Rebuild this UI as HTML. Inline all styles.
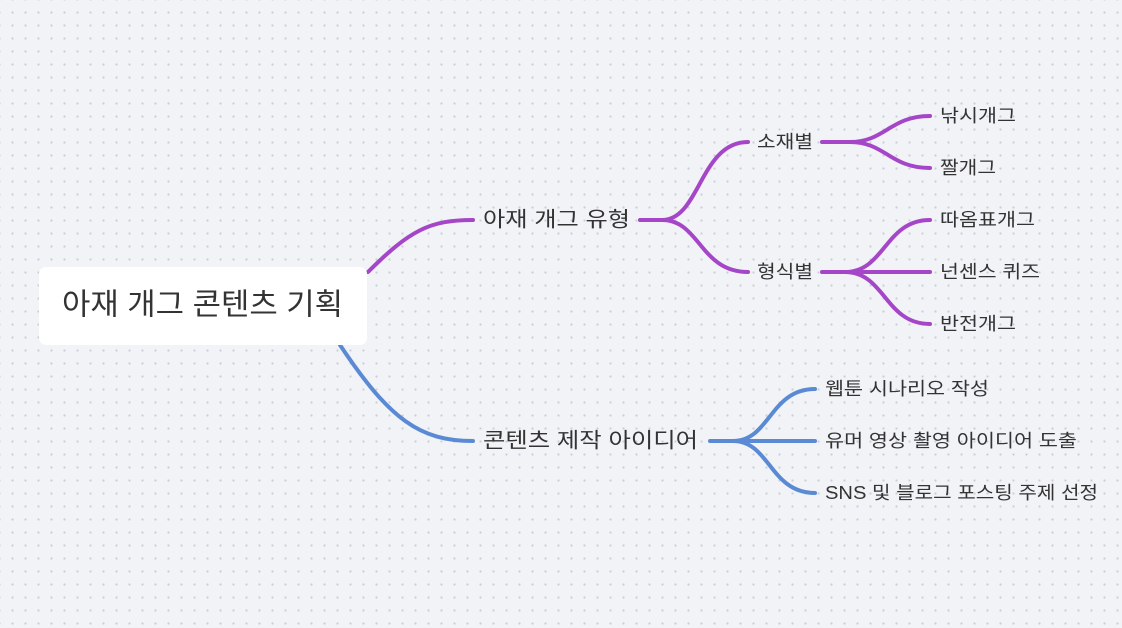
<!DOCTYPE html>
<html><head><meta charset="utf-8"><style>
html,body{margin:0;padding:0;}
body{width:1122px;height:628px;overflow:hidden;background-color:#f1f3f6;
background-image:radial-gradient(circle,#c9ced6 1px,transparent 1.2px);background-size:13px 13px;background-position:6px 6px;
font-family:"Liberation Sans","Noto Sans CJK KR",sans-serif;}
svg{position:absolute;left:0;top:0;}
text{font-family:"Liberation Sans","Noto Sans CJK KR",sans-serif;fill:#333;dominant-baseline:central;}
</style></head><body>
<svg width="1122" height="628" viewBox="0 0 1122 628">
<g fill="none" stroke-width="4" stroke-linecap="round">
<g stroke="#a546c8">
<path d="M368 272 C410 230 430 220 473 220"/>
<path d="M640 220 L662 220"/>
<path d="M662 220 C700 220 700 142 748 142"/>
<path d="M662 220 C700 220 700 272 748 272"/>
<path d="M822 142 L850 142 C885 142 890 116 930 116"/>
<path d="M850 142 C885 142 890 168 930 168"/>
<path d="M822 272 L930 272"/>
<path d="M845 272 C885 272 885 220 930 220"/>
<path d="M845 272 C885 272 885 324 930 324"/>
</g>
<g stroke="#5b8ad4">
<path d="M340 345 C390 420 420 441 473 441"/>
<path d="M710 441 L815 441"/>
<path d="M733 441 C770 441 770 389 815 389"/>
<path d="M733 441 C770 441 770 493 815 493"/>
</g>
</g>
<rect x="39" y="267" width="328" height="78" rx="7" fill="#fff"/>
<text x="62" y="305" font-size="30" textLength="281" lengthAdjust="spacingAndGlyphs">아재 개그 콘텐츠 기획</text>
<text x="483" y="220" font-size="21" textLength="147" lengthAdjust="spacingAndGlyphs">아재 개그 유형</text>
<text x="483" y="441" font-size="21" textLength="215" lengthAdjust="spacingAndGlyphs">콘텐츠 제작 아이디어</text>
<text x="757" y="142" font-size="18" textLength="56" lengthAdjust="spacingAndGlyphs">소재별</text>
<text x="757" y="272" font-size="18" textLength="56" lengthAdjust="spacingAndGlyphs">형식별</text>
<g font-size="18">
<text x="940" y="116" textLength="76" lengthAdjust="spacingAndGlyphs">낚시개그</text>
<text x="940" y="168" textLength="56" lengthAdjust="spacingAndGlyphs">짤개그</text>
<text x="940" y="220" textLength="95" lengthAdjust="spacingAndGlyphs">따옴표개그</text>
<text x="940" y="272" textLength="100" lengthAdjust="spacingAndGlyphs">넌센스 퀴즈</text>
<text x="940" y="324" textLength="76" lengthAdjust="spacingAndGlyphs">반전개그</text>
<text x="825" y="389" textLength="164" lengthAdjust="spacingAndGlyphs">웹툰 시나리오 작성</text>
<text x="825" y="441" textLength="252" lengthAdjust="spacingAndGlyphs">유머 영상 촬영 아이디어 도출</text>
<text x="825" y="493" textLength="273" lengthAdjust="spacingAndGlyphs">SNS 및 블로그 포스팅 주제 선정</text>
</g>
</svg>
</body></html>
